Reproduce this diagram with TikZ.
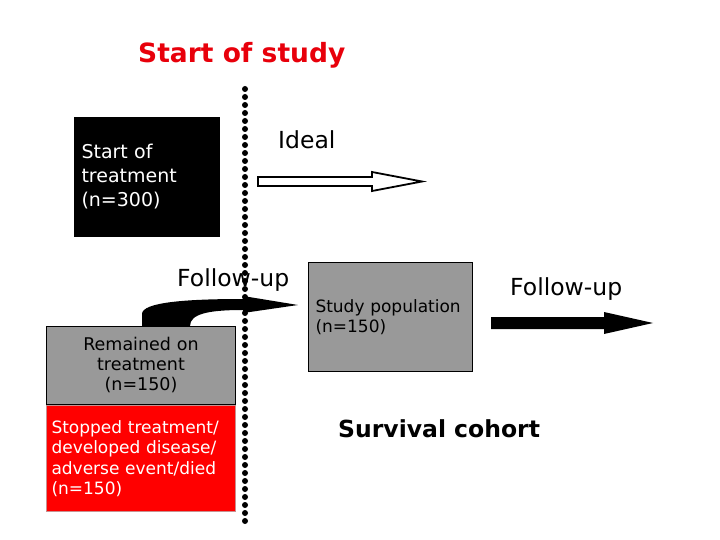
\documentclass[tikz,border=0pt]{standalone}
\usepackage{fontspec}
\setmainfont{DejaVu Sans}
\usetikzlibrary{calc}
\definecolor{boxgray}{HTML}{999999}
\definecolor{titlered}{HTML}{E8000B}
\definecolor{redborder}{HTML}{C89090}
\tikzset{
  txt/.style={inner sep=0pt,anchor=base west},
  box/.style={draw,line width=1pt,inner sep=7pt,anchor=north west}
}
\begin{document}
\begin{tikzpicture}[x=1pt,y=-1pt]
  \useasboundingbox (0,0) rectangle (720,540);
  % title
  \node[txt,text=titlered,font=\bfseries\fontsize{26.5}{30}\selectfont] (title) at (138,63) {Start of study};
  % dotted line
  \foreach \i in {0,...,54}
    \fill (245,89+8*\i) circle (3);
  % start of treatment
  \node[box,fill=black,text=white,text width=131pt,minimum height=119pt,align=left,
        font=\fontsize{19}{24}\selectfont] (start) at (74,117) {Start of\\treatment\\(n=300)};
  \node[txt,font=\fontsize{23.5}{28}\selectfont] (ideal) at (278,149) {Ideal};
  \coordinate (ia) at (258,181.5);
  \coordinate (ib) at (422,181.5);
  \draw[line width=1.8pt,fill=white,line join=miter]
    ($(ia)+(0,-4.5)$) -- ($(ib)+(-50,-4.5)$) -- ($(ib)+(-50,-9.5)$) -- (ib)
    -- ($(ib)+(-50,9.5)$) -- ($(ib)+(-50,4.5)$) -- ($(ia)+(0,4.5)$) -- cycle;
  % remained / stopped
  \node[box,fill=boxgray,text width=175pt,minimum height=78pt,inner sep=7pt,align=center,
        font=\fontsize{17.5}{20}\selectfont] (remained) at (46,326) {Remained on\\treatment\\(n=150)};
  \node[draw=redborder,line width=1pt,fill=red,text=white,anchor=north west,inner sep=5pt,
        text width=179pt,minimum height=106pt,align=left,
        font=\fontsize{17}{20.5}\selectfont] (stopped) at (46,405) {Stopped treatment/\\developed disease/\\adverse event/died\\(n=150)};
  \node[txt,font=\fontsize{23.5}{28}\selectfont] (fu1) at (177,286) {Follow-up};
  \coordinate (ca) at (142,326);
  \coordinate (cb) at (298,305);
  \fill (ca) -- ($(ca)+(0,-12)$) .. controls ($(ca)+(0,-24)$) and ($(cb)+(-110,-6)$) .. ($(cb)+(-55,-6)$)
    -- ($(cb)+(-55,-9)$) -- (cb) -- ($(cb)+(-55,8)$) -- ($(cb)+(-55,5)$)
    .. controls ($(cb)+(-90,5)$) and ($(ca)+(48,-12)$) .. ($(ca)+(48,0)$) -- cycle;
  % study population
  \node[box,fill=boxgray,text width=150pt,minimum height=109pt,align=left,
        font=\fontsize{17}{20}\selectfont] (study) at (308,262) {Study population\\(n=150)};
  \node[txt,font=\fontsize{23.5}{28}\selectfont] (fu2) at (510,295) {Follow-up};
  \coordinate (fa) at (491,323);
  \coordinate (fb) at (653,323);
  \fill ($(fa)+(0,-6)$) -- ($(fb)+(-49,-6)$) -- ($(fb)+(-49,-11)$) -- (fb)
    -- ($(fb)+(-49,11)$) -- ($(fb)+(-49,6)$) -- ($(fa)+(0,6)$) -- cycle;
  \node[txt,font=\bfseries\fontsize{23.5}{28}\selectfont] (cohort) at (338,437) {Survival cohort};
\end{tikzpicture}
\end{document}
